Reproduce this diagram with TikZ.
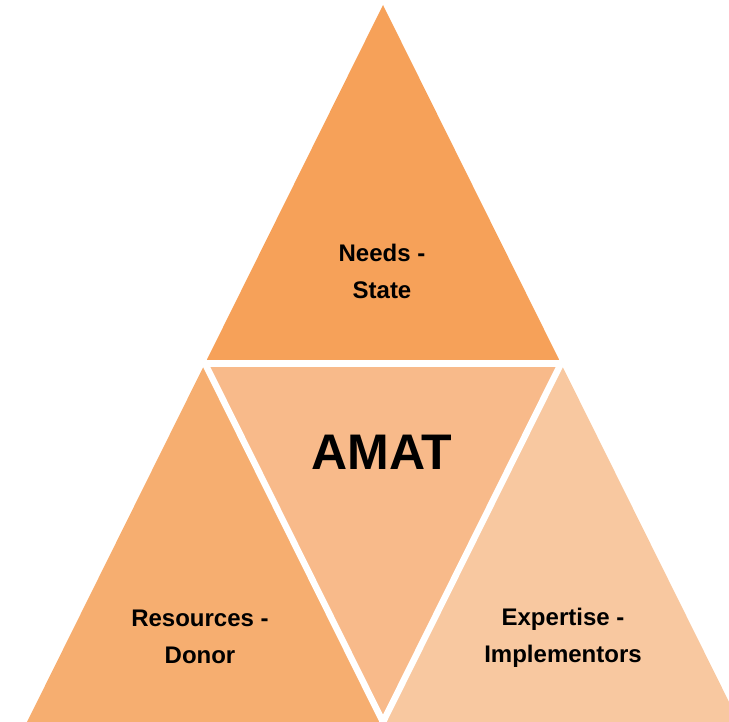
\documentclass[tikz,border=0pt]{standalone}
\usepackage{fontspec}
\setmainfont{Liberation Sans}
\usetikzlibrary{calc}
\definecolor{ctop}{RGB}{246,161,89}
\definecolor{cleft}{RGB}{246,174,112}
\definecolor{cmid}{RGB}{248,186,138}
\definecolor{cright}{RGB}{248,200,160}
\begin{document}
\begin{tikzpicture}[x=1pt,y=-1pt,
  lbl/.style={font=\bfseries\fontsize{24}{37}\selectfont, align=center, text=black},
  gap/.style={draw=white, line width=6.5pt, line cap=butt}]
\useasboundingbox (0,0) rectangle (729,722);
\clip (0,0) rectangle (729,722);
\coordinate (T) at (383,5);
\coordinate (L) at (205,363.5);
\coordinate (R) at (561,363.5);
\coordinate (B) at (383,722);
\fill[ctop] (T) -- (R) -- (L) -- cycle;
\fill[cmid] (L) -- (R) -- (B) -- cycle;
\fill[cleft] (L) -- (B) -- (27,722) -- cycle;
\fill[cright] (R) -- (739,722) -- (B) -- cycle;
\draw[gap] (190,363.5) -- (576,363.5);
\draw[gap] ($(L)!-0.05!(B)$) -- ($(L)!1.05!(B)$);
\draw[gap] ($(R)!-0.05!(B)$) -- ($(R)!1.05!(B)$);
\node[lbl] (needs) at (382,271) {Needs -\\State};
\node[font=\bfseries\fontsize{50}{54}\selectfont] (amat) at (382,452) {AMAT};
\node[lbl] (res) at (200,637) {Resources -\\Donor};
\node[lbl] (exp) at (563,638) {Expertise -\\Implementors};
\end{tikzpicture}
\end{document}
